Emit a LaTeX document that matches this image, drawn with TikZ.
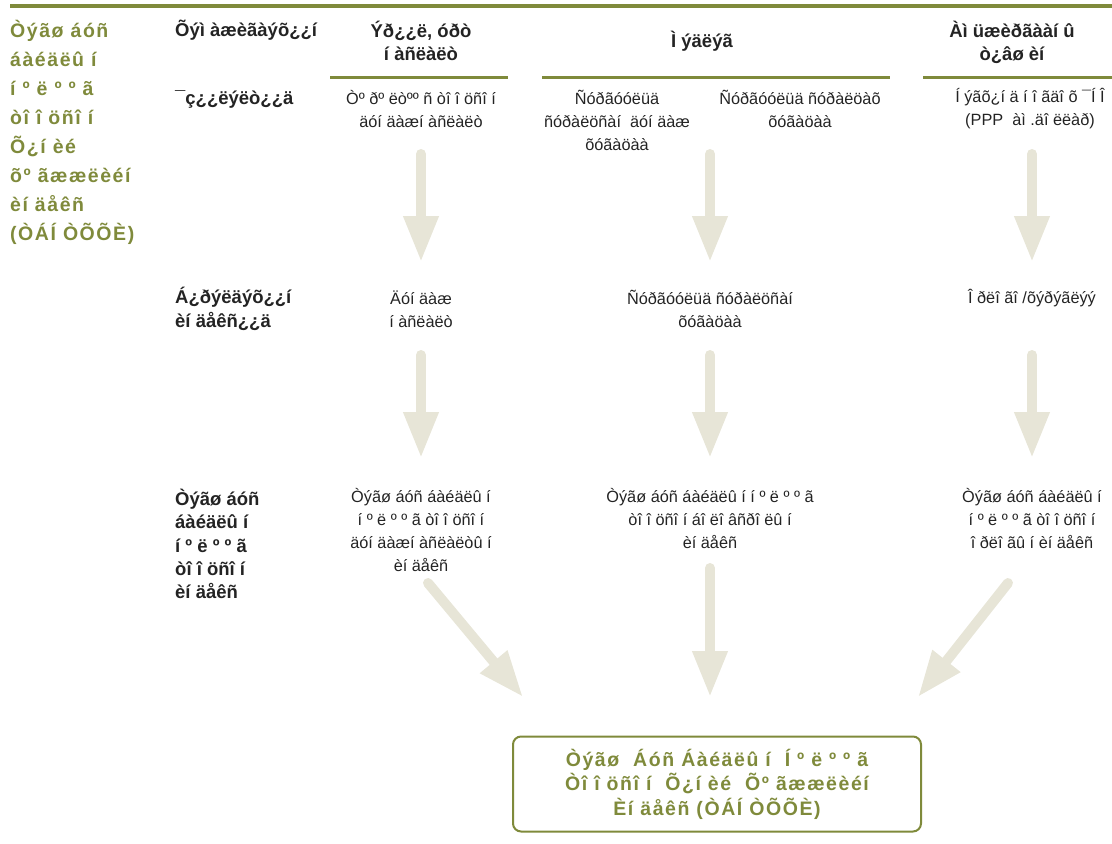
\documentclass[tikz,border=0pt]{standalone}
\usepackage{fontspec}
\setmainfont{Liberation Sans}
\newfontfamily\gfont[LetterSpace=8]{Liberation Sans}
\usetikzlibrary{arrows.meta}
\definecolor{ogreen}{RGB}{127,138,59}
\definecolor{arrowc}{RGB}{231,229,215}
\definecolor{bodyc}{RGB}{35,35,35}
\begin{document}
\begin{tikzpicture}[x=1pt,y=-1pt,
  gtxt/.style={font=\gfont\bfseries\fontsize{19.5}{29}\selectfont, text=ogreen, align=left, inner sep=0pt},
  htxt/.style={font=\bfseries\fontsize{18.5}{23}\selectfont, text=bodyc, align=center, inner sep=0pt},
  ltxt/.style={font=\bfseries\fontsize{18.5}{23.3}\selectfont, text=bodyc, align=left, inner sep=0pt},
  btxt/.style={font=\fontsize{16.3}{23}\selectfont, text=bodyc, align=center, inner sep=0pt},
  rule/.style={draw=ogreen, line width=3pt},
  bigarrow/.style={draw=arrowc, line width=10pt, line cap=round, -{Triangle[width=33pt,length=46pt]}},
  finalbox/.style={draw=ogreen, line width=2pt, rounded corners=8pt, minimum width=408pt, minimum height=95pt,
     font=\gfont\bfseries\fontsize{19.5}{24.5}\selectfont, text=ogreen, align=center, inner sep=0pt}
]
\useasboundingbox (0,0) rectangle (1112,844);
% rules
\draw[rule, line width=3.5pt] (10,6) -- (1112,6);
\draw[rule] (330,77) -- (508,77);
\draw[rule] (542,77) -- (890,77);
\draw[rule] (923,77) -- (1112,77);

% left green column
\node[gtxt, anchor=west] (lg) at (10,132) {Òýãø áóñ\\áàéäëû í\\í º ë º º ã\\òî î öñî í\\Õ¿í èé\\õº ãææëèéí\\èí äåêñ\\(ÒÁÍ ÒÕÕÈ)};

% headers
\node[htxt, anchor=west] (h0) at (175,30) {Õýì àæèãàýõ¿¿í};
\node[htxt] (h1) at (421,41) {Ýð¿¿ë, óðò\\í àñëàëò};
\node[htxt] (h2) at (702,41) {Ì ýäëýã};
\node[htxt] (h3) at (1012,42) {Àì üæèðãààí û\\ò¿âø èí};

% row 1
\node[ltxt, anchor=west] (l1) at (175,99) {¯ç¿¿ëýëò¿¿ä};
\node[btxt] (r1c1) at (421,109) {Òº ðº ëòºº ñ òî î öñî í\\äóí äàæí àñëàëò};
\node[btxt] (r1c2a) at (617,120) {Ñóðãóóëüä\\ñóðàëöñàí \ äóí äàæ\\õóãàöàà};
\node[btxt] (r1c2b) at (800,109) {Ñóðãóóëüä ñóðàëöàõ\\õóãàöàà};
\node[btxt] (r1c3) at (1030,109) {Í ýãõ¿í ä í î ãäî õ ¯Í Î\\(PPP \ àì .äî ëëàð)};

% row 2
\node[ltxt, anchor=west] (l2) at (175,309) {Á¿ðýëäýõ¿¿í\\èí äåêñ¿¿ä};
\node[btxt] (r2c1) at (421,309) {Äóí äàæ\\í àñëàëò};
\node[btxt] (r2c2) at (710,309) {Ñóðãóóëüä ñóðàëöñàí\\õóãàöàà};
\node[btxt] (r2c3) at (1032,298) {Î ðëî ãî /õýðýãëýý};

% row 3
\node[ltxt, anchor=west] (l3) at (175,544) {Òýãø áóñ\\áàéäëû í\\í º ë º º ã\\òî î öñî í\\èí äåêñ};
\node[btxt] (r3c1) at (421,530) {Òýãø áóñ áàéäëû í\\í º ë º º ã òî î öñî í\\äóí äàæí àñëàëòû í\\èí äåêñ};
\node[btxt] (r3c2) at (710,519) {Òýãø áóñ áàéäëû í í º ë º º ã\\òî î öñî í áî ëî âñðî ëû í\\èí äåêñ};
\node[btxt] (r3c3) at (1032,519) {Òýãø áóñ áàéäëû í\\í º ë º º ã òî î öñî í\\î ðëî ãû í èí äåêñ};

% final box
\node[finalbox] (fin) at (717,784) {Òýãø \ Áóñ Áàéäëû í \ Í º ë º º ã\\Òî î öñî í \ Õ¿í èé \ Õº ãææëèéí\\Èí äåêñ (ÒÁÍ ÒÕÕÈ)};

% arrows
\draw[bigarrow] (r1c1 |- 0,154) -- (r2c1 |- 0,262);
\draw[bigarrow] (r2c2 |- 0,154) -- (r2c2 |- 0,262);
\draw[bigarrow] (r2c3 |- 0,154) -- (r2c3 |- 0,262);
\draw[bigarrow] (r2c1 |- 0,355) -- (r3c1 |- 0,458);
\draw[bigarrow] (r2c2 |- 0,355) -- (r3c2 |- 0,458);
\draw[bigarrow] (r2c3 |- 0,355) -- (r3c3 |- 0,458);
\coordinate (d1s) at (428,583);
\coordinate (d1e) at (523,697);
\coordinate (d3s) at (1008,583);
\coordinate (d3e) at (918,697);
\draw[bigarrow] (d1s) -- (d1e);
\draw[bigarrow] (r3c2 |- 0,568) -- (r3c2 |- 0,697);
\draw[bigarrow] (d3s) -- (d3e);
\end{tikzpicture}
\end{document}
